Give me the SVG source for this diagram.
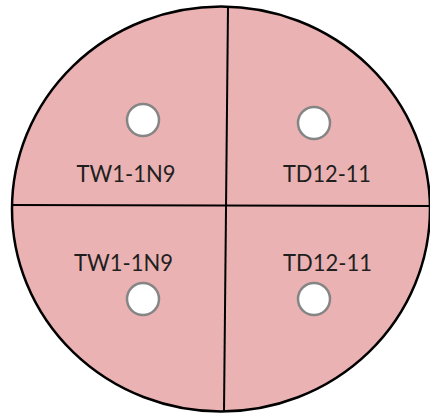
<svg xmlns="http://www.w3.org/2000/svg" width="430" height="414" viewBox="0 0 430 414">
<style>
.hole{fill:#ffffff;stroke:#858585;stroke-width:2.5}
.lbl{font-family:Lato,"Open Sans","Liberation Sans",sans-serif;font-size:24px;fill:#1f1f1f;text-anchor:middle}
.div{stroke:#000;stroke-width:2;fill:none}
</style>
<rect width="430" height="414" fill="#ffffff"/>
<ellipse id="disk" cx="221" cy="209" rx="209" ry="202.5" fill="#eab2b2" stroke="#000" stroke-width="2.5"/>
<g id="dividers">
<line class="div" x1="228" y1="7" x2="224" y2="411"/>
<line class="div" x1="12" y1="205" x2="431" y2="206"/>
</g>
<g id="q1"><circle class="hole" cx="143" cy="120" r="16"/><text class="lbl" x="126" y="182" textLength="99" lengthAdjust="spacingAndGlyphs">TW1-1N9</text></g>
<g id="q2"><circle class="hole" cx="314" cy="123" r="16"/><text class="lbl" x="327" y="182" textLength="88" lengthAdjust="spacingAndGlyphs">TD12-11</text></g>
<g id="q3"><circle class="hole" cx="143" cy="299" r="16"/><text class="lbl" x="123.5" y="271" textLength="99" lengthAdjust="spacingAndGlyphs">TW1-1N9</text></g>
<g id="q4"><circle class="hole" cx="314" cy="299" r="16"/><text class="lbl" x="327.5" y="271" textLength="89" lengthAdjust="spacingAndGlyphs">TD12-11</text></g>
</svg>
